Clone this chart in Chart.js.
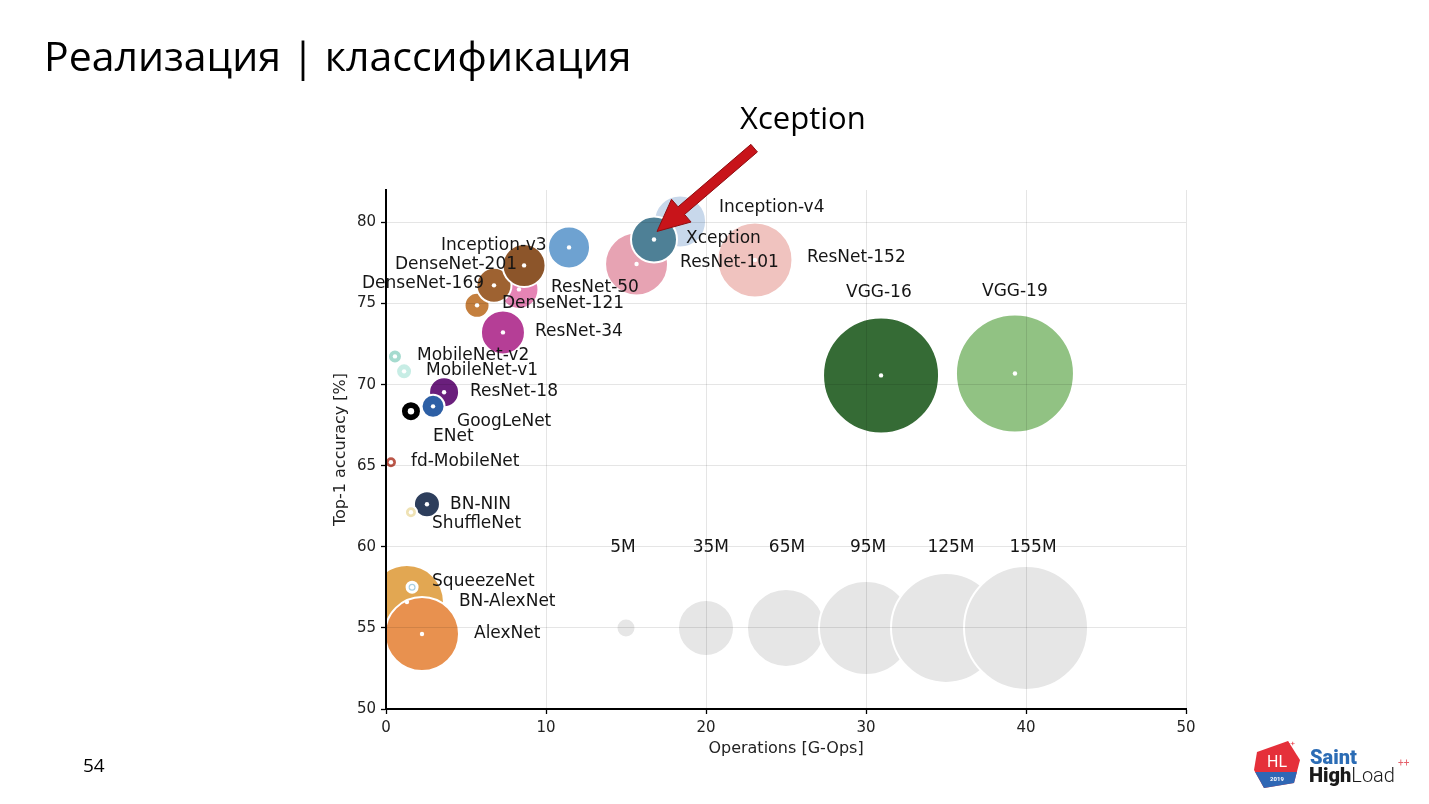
<!DOCTYPE html>
<html><head><meta charset="utf-8">
<script src="https://cdn.jsdelivr.net/npm/chart.js@4.4.1/dist/chart.umd.min.js"></script>
<style>
html,body{margin:0;padding:0;background:#fff;width:1429px;height:804px;overflow:hidden;position:relative;font-family:"Open Sans",sans-serif;color:#000}
#c{position:absolute;left:0;top:0}
#title{position:absolute;left:44px;top:35px;font-size:41px;line-height:1;white-space:nowrap}
#anno{position:absolute;left:740px;top:102px;font-size:31px;line-height:1;white-space:nowrap}
#page{position:absolute;left:83px;top:756px;font-size:19px;line-height:1}
#logo{position:absolute;left:1250px;top:736px}
</style></head><body>
<canvas id="c" width="1429" height="804"></canvas>
<div id="title">Реализация | классификация</div>
<div id="anno">Xception</div>
<div id="page">54</div>
<svg id="logo" width="175" height="60" viewBox="0 0 175 60">
  <defs><clipPath id="hx"><polygon points="7,16 38,5 50,24 44,47 14,52 4,34"/></clipPath></defs>
  <g clip-path="url(#hx)">
    <rect x="0" y="0" width="60" height="60" fill="#e5303a"/>
    <rect x="0" y="36" width="60" height="30" fill="#2f67b5"/>
  </g>
  <text x="27" y="31" fill="#fff" font-family="Roboto" font-size="16" text-anchor="middle">HL</text>
  <text x="27" y="45" fill="#fff" font-family="Roboto" font-weight="bold" font-size="6" text-anchor="middle">2019</text>
  <text x="36" y="10" fill="#e5303a" font-family="Roboto" font-size="8">++</text>
  <text x="60" y="28" fill="#2b6cb5" font-family="Roboto" font-weight="900" font-size="20">Saint</text>
  <text x="59" y="46" fill="#1a1a1a" font-family="Roboto" font-size="20"><tspan font-weight="900">High</tspan><tspan font-weight="300">Load</tspan></text>
  <text x="148" y="30" fill="#e5606a" font-family="Roboto" font-size="10">++</text>
</svg>
<script>
// ---- data ----
const modelNames  = ['BN-AlexNet','AlexNet','SqueezeNet','BN-NIN','ShuffleNet','fd-MobileNet','ENet','ResNet-18','GoogLeNet','MobileNet-v2','MobileNet-v1','ResNet-34','ResNet-50','DenseNet-121','DenseNet-169','DenseNet-201','Inception-v3','ResNet-152','Inception-v4','ResNet-101','Xception','VGG-16','VGG-19'];
const modelOps    = [1.31, 2.25, 1.63, 2.56, 1.56, 0.31, 1.56, 3.63, 2.94, 0.56, 1.13, 7.31, 8.31, 5.69, 6.75, 8.63, 11.44, 23.06, 18.38, 15.66, 16.75, 30.94, 39.31];
const modelAcc    = [56.59, 54.62, 57.51, 62.62, 62.13, 65.21, 68.36, 69.53, 68.66, 71.74, 70.82, 73.22, 75.87, 74.89, 76.12, 77.35, 78.46, 77.69, 80.06, 77.44, 78.95, 70.57, 70.69];
const modelRadius = [37, 37, 5, 13, 6, 6, 10, 15, 11.5, 7, 8, 22, 19.5, 12.5, 17.5, 21.5, 21, 37.5, 26, 31.5, 23, 58, 59];
const modelColors = ['#e2a752','#e8914f','#a9cfe0','#2d3e5c','#efe2b4','#bb5648','#000000','#6a1f7c','#2d5fa5','#a6dbcf','#c7ede5','#b53e96','#e584b5','#c47f3e','#9e6231','#8c552a','#6ea2d1','#f0c3bf','#c8d8eb','#e7a3b3','#4e8096','#356b35','#91c283'];

const sizeLabels  = ['5M','35M','65M','95M','125M','155M'];
const sizeOps     = [15, 20, 25, 30, 35, 40];
const sizeAcc     = [55, 55, 55, 55, 55, 55];
const sizeRadius  = [9.5, 28, 39, 47, 55, 62];

// label anchors (data units): left edge / vertical centre
const labelNames = ['Inception-v4','Xception','ResNet-101','ResNet-152','VGG-16','VGG-19','Inception-v3','DenseNet-201','DenseNet-169','ResNet-50','DenseNet-121','ResNet-34','MobileNet-v2','MobileNet-v1','ResNet-18','GoogLeNet','ENet','fd-MobileNet','BN-NIN','ShuffleNet','SqueezeNet','BN-AlexNet','AlexNet'];
const labelX = [20.81, 18.75, 18.38, 26.31, 28.75, 37.25, 3.44, 0.56, -1.5, 10.31, 7.25, 9.31, 1.94, 2.5, 5.25, 4.44, 2.94, 1.56, 4.0, 2.88, 2.88, 4.56, 5.5];
const labelY = [80.92, 79.01, 77.54, 77.84, 75.69, 75.75, 78.58, 77.41, 76.24, 76.0, 75.01, 73.28, 71.81, 70.88, 69.59, 67.74, 66.82, 65.28, 62.63, 61.46, 57.88, 56.65, 54.62];
const sizeLabelX = [14.81, 20.3, 25.06, 30.13, 35.31, 40.44];
const sizeLabelY = 59.98;

const xTicks = [0, 10, 20, 30, 40, 50];
const yTicks = [50, 55, 60, 65, 70, 75, 80];
const xTitle = 'Operations [G-Ops]';
const yTitle = 'Top-1 accuracy [%]';

// ---- chart ----
const bubbleData = modelOps.map((x, i) => ({x, y: modelAcc[i], r: modelRadius[i]}))
  .concat(sizeOps.map((x, i) => ({x, y: sizeAcc[i], r: sizeRadius[i]})));
const bubbleColors = modelColors.concat(sizeOps.map(() => '#e6e6e6'));
const bubbleBorders = modelNames.map(n => n === 'SqueezeNet' ? 3 : 2).concat(sizeOps.map(() => 2));
const dotData = modelOps.map((x, i) => ({x, y: modelAcc[i]}));

const labelPlugin = {
  id: 'labels',
  afterDraw(chart) {
    const ctx = chart.ctx, xs = chart.scales.x, ys = chart.scales.y;
    ctx.save();
    ctx.fillStyle = '#151515';
    ctx.font = '17px "DejaVu Sans"';
    ctx.textBaseline = 'middle';
    ctx.textAlign = 'left';
    labelNames.forEach((t, i) => ctx.fillText(t, xs.getPixelForValue(labelX[i]), ys.getPixelForValue(labelY[i])));
    ctx.textAlign = 'center';
    sizeLabels.forEach((t, i) => ctx.fillText(t, xs.getPixelForValue(sizeLabelX[i]), ys.getPixelForValue(sizeLabelY)));
    // red arrow pointing at Xception
    const xi = modelNames.indexOf('Xception');
    const tip = {x: xs.getPixelForValue(modelOps[xi]) + 3, y: ys.getPixelForValue(modelAcc[xi]) - 8};
    const ux = 0.759, uy = -0.651, nx = -uy, ny = ux;
    const L = 128, hl = 32, hw = 15, sw = 5;
    const bx = tip.x + ux * hl, by = tip.y + uy * hl;
    const tx = tip.x + ux * L, ty = tip.y + uy * L;
    ctx.beginPath();
    ctx.moveTo(tip.x, tip.y);
    ctx.lineTo(bx + nx * hw, by + ny * hw);
    ctx.lineTo(bx + nx * sw, by + ny * sw);
    ctx.lineTo(tx + nx * sw, ty + ny * sw);
    ctx.lineTo(tx - nx * sw, ty - ny * sw);
    ctx.lineTo(bx - nx * sw, by - ny * sw);
    ctx.lineTo(bx - nx * hw, by - ny * hw);
    ctx.closePath();
    ctx.fillStyle = '#c8141a';
    ctx.fill();
    ctx.strokeStyle = '#8e0d10';
    ctx.lineWidth = 1;
    ctx.stroke();
    ctx.restore();
  }
};

new Chart(document.getElementById('c'), {
  data: {
    datasets: [
      {type: 'scatter', data: dotData, order: 0, clip: 0,
       pointRadius: c => (modelNames[c.dataIndex] === 'ENet' ? 3.2 : 2.2),
       pointBackgroundColor: '#ffffff', pointBorderWidth: 0, pointBorderColor: '#ffffff'},
      {type: 'bubble', data: bubbleData, order: 1, clip: 0,
       backgroundColor: bubbleColors, borderColor: '#ffffff', borderWidth: bubbleBorders}
    ]
  },
  options: {
    responsive: false, animation: false, events: [],
    layout: {padding: {left: 330, right: 243, top: 190, bottom: 39}},
    plugins: {legend: {display: false}, tooltip: {enabled: false}, title: {display: false}},
    scales: {
      x: {type: 'linear', position: 'bottom', min: 0, max: 50,
          afterFit: s => { s.height = 56; },
          afterBuildTicks: s => { s.ticks = xTicks.map(v => ({value: v})); },
          grid: {color: 'rgba(0,0,0,0.10)', z: 1, tickColor: '#000', tickLength: 5, tickWidth: 1.3},
          border: {display: true, color: '#000', width: 2, z: 1},
          ticks: {font: {family: 'DejaVu Sans', size: 15}, color: '#222', padding: 5, maxRotation: 0},
          title: {display: true, text: xTitle, font: {family: 'DejaVu Sans', size: 16}, color: '#222', padding: {top: 0, bottom: 7}}},
      y: {type: 'linear', position: 'left', min: 50, max: 82,
          afterFit: s => { s.width = 56; },
          afterBuildTicks: s => { s.ticks = yTicks.map(v => ({value: v})); },
          grid: {color: 'rgba(0,0,0,0.10)', z: 1, tickColor: '#000', tickLength: 5, tickWidth: 1.3},
          border: {display: true, color: '#000', width: 2, z: 1},
          ticks: {font: {family: 'DejaVu Sans', size: 15}, color: '#222', padding: 5},
          title: {display: true, text: yTitle, font: {family: 'DejaVu Sans', size: 16}, color: '#222', padding: {top: 1, bottom: 0}}}
    }
  },
  plugins: [labelPlugin]
});
</script>
</body></html>
